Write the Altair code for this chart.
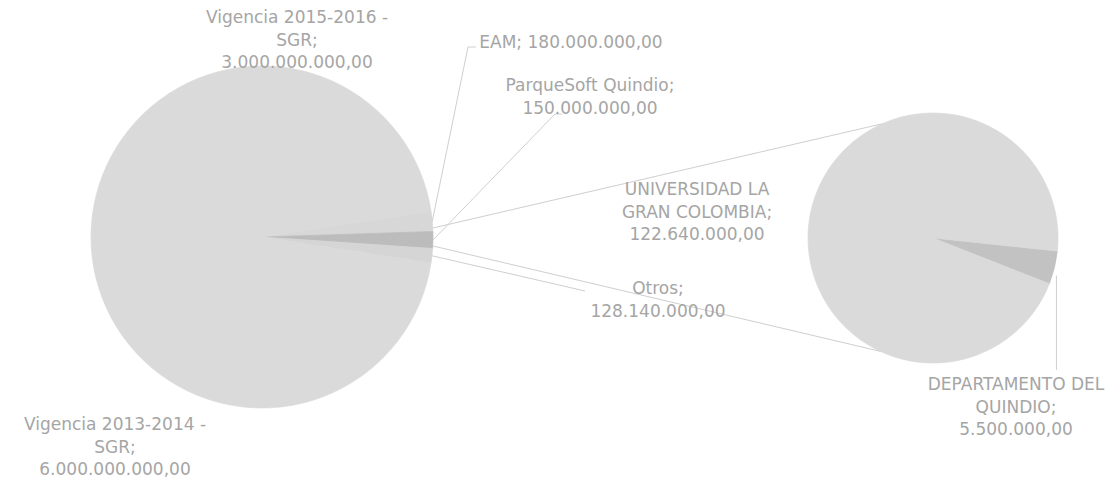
import math
import altair as alt
import pandas as pd

# ---------------- data ----------------
main_cats = ["EAM", "ParqueSoft Quindio", "Otros",
             "Vigencia 2013-2014 - SGR", "Vigencia 2015-2016 - SGR"]
main_vals = [180000000.00, 150000000.00, 128140000.00,
             6000000000.00, 3000000000.00]
main_wrap = ["EAM", "ParqueSoft Quindio", "Otros",
             "Vigencia 2013-2014 -\nSGR", "Vigencia 2015-2016 -\nSGR"]

sub_cats = ["DEPARTAMENTO DEL QUINDIO", "UNIVERSIDAD LA GRAN COLOMBIA"]
sub_vals = [5500000.00, 122640000.00]
sub_wrap = ["DEPARTAMENTO DEL\nQUINDIO", "UNIVERSIDAD LA\nGRAN COLOMBIA"]

# ---------------- style / layout ----------------
W, H = 1098, 473
OFF = 8  # page margin
main_colors = ["#d7d7d7", "#bcbcbc", "#d5d5d5", "#dadada", "#dadada"]
sub_colors = ["#c2c2c2", "#dadada"]
main_c, main_r = (262 - OFF, 237 - OFF), 171
sub_c, sub_r = (933 - OFF, 238 - OFF), 125
main_start_deg = 81.3
sub_start_deg = 96.0
FONT = "DejaVu Sans"
TXT = "#a5a5a5"
LINE = "#cfcfcf"

# first-line centre of each label (picture pixels)
main_label_xy = [(571, 43), (590, 86), (658, 289), (115, 425), (297, 18)]
sub_label_xy = [(1016, 385), (697, 190)]
main_sep = [" ", "\n", "\n", "\n", "\n"]
sub_sep = ["\n", "\n"]


def fmt(v):
    s = f"{v:,.2f}"
    return s.replace(",", "#").replace(".", ",").replace("#", ".")


def pt(c, r, deg):
    a = math.radians(deg)
    return c[0] + r * math.sin(a), c[1] - r * math.cos(a)


main_df = pd.DataFrame({"cat": main_cats, "value": main_vals,
                        "ord": list(range(len(main_cats)))})
sub_df = pd.DataFrame({"cat": sub_cats, "value": sub_vals,
                       "ord": list(range(len(sub_cats)))})

main_total = sum(main_vals)

# label table
rows = []
for name, v, sep, (x, y) in zip(main_wrap, main_vals, main_sep, main_label_xy):
    rows.append({"x": x - OFF, "y": y - OFF, "t": f"{name};{sep}{fmt(v)}"})
for name, v, sep, (x, y) in zip(sub_wrap, sub_vals, sub_sep, sub_label_xy):
    rows.append({"x": x - OFF, "y": y - OFF, "t": f"{name};{sep}{fmt(v)}"})
lab_df = pd.DataFrame(rows)

# lines: connectors between pies and leader lines
segs = []
segs.append((pt(main_c, main_r, 87), pt(sub_c, sub_r, 336)))
segs.append((pt(main_c, main_r, 93), pt(sub_c, sub_r, 205)))
# leader lines (to label anchors)
cum = main_start_deg
mids = []
for v in main_vals[:3]:
    span = 360 * v / main_total
    mids.append(cum + span / 2)
    cum += span
leader_ends = [[(468 - OFF, 47 - OFF), (476 - OFF, 47 - OFF)],
               [(555 - OFF, 114 - OFF), (562 - OFF, 114 - OFF)],
               [(585 - OFF, 291 - OFF)]]
for m, ends in zip(mids, leader_ends):
    p = pt(main_c, main_r, m)
    for e in ends:
        segs.append((p, e))
        p = e
# DEPARTAMENTO leader
sub_mid = sub_start_deg + 360 * sub_vals[0] / sum(sub_vals) / 2
p = pt(sub_c, sub_r, sub_mid)
segs.append(((p[0] + 2, p[1] + 8), (p[0] + 2, 370 - OFF)))

line_df = pd.DataFrame([{"x": s[0][0], "y": s[0][1], "x2": s[1][0], "y2": s[1][1]}
                        for s in segs])

xs = alt.Scale(domain=[0, W], range=[0, W])
ys = alt.Scale(domain=[0, H], range=[0, H])

main_scale = alt.Scale(domain=main_cats, range=main_colors)
sub_scale = alt.Scale(domain=sub_cats, range=sub_colors)

main_pie = alt.Chart(main_df).mark_arc(outerRadius=main_r, strokeWidth=0.7).encode(
    theta=alt.Theta("value:Q", stack=True,
                    scale=alt.Scale(range=[math.radians(main_start_deg),
                                           math.radians(main_start_deg + 360)])),
    order=alt.Order("ord:Q"),
    color=alt.Color("cat:N", scale=main_scale, legend=None),
    stroke=alt.Stroke("cat:N", scale=main_scale, legend=None),
    x=alt.value(main_c[0]),
    y=alt.value(main_c[1]),
)

sub_pie = alt.Chart(sub_df).mark_arc(outerRadius=sub_r, strokeWidth=0.7).encode(
    theta=alt.Theta("value:Q", stack=True,
                    scale=alt.Scale(range=[math.radians(sub_start_deg),
                                           math.radians(sub_start_deg + 360)])),
    order=alt.Order("ord:Q"),
    color=alt.Color("cat:N", scale=sub_scale, legend=None),
    stroke=alt.Stroke("cat:N", scale=sub_scale, legend=None),
    x=alt.value(sub_c[0]),
    y=alt.value(sub_c[1]),
)

lines = alt.Chart(line_df).mark_rule(color=LINE, strokeWidth=1).encode(
    x=alt.X("x:Q", scale=xs, axis=None),
    y=alt.Y("y:Q", scale=ys, axis=None),
    x2="x2:Q",
    y2="y2:Q",
)

labels = alt.Chart(lab_df).mark_text(
    font=FONT, fontSize=17, color=TXT, align="center", baseline="middle",
    lineBreak="\n", lineHeight=22.5,
).encode(
    x=alt.X("x:Q", scale=xs, axis=None),
    y=alt.Y("y:Q", scale=ys, axis=None),
    text="t:N",
)

chart = alt.layer(main_pie, sub_pie, lines, labels).resolve_scale(
    theta="independent", color="independent", stroke="independent"
).properties(
    width=W, height=H, padding=0, autosize=alt.AutoSizeParams(type="none"),
    background="white",
).configure_view(stroke=None)

chart.save("out.html", embed_options={"renderer": "svg", "actions": False})
